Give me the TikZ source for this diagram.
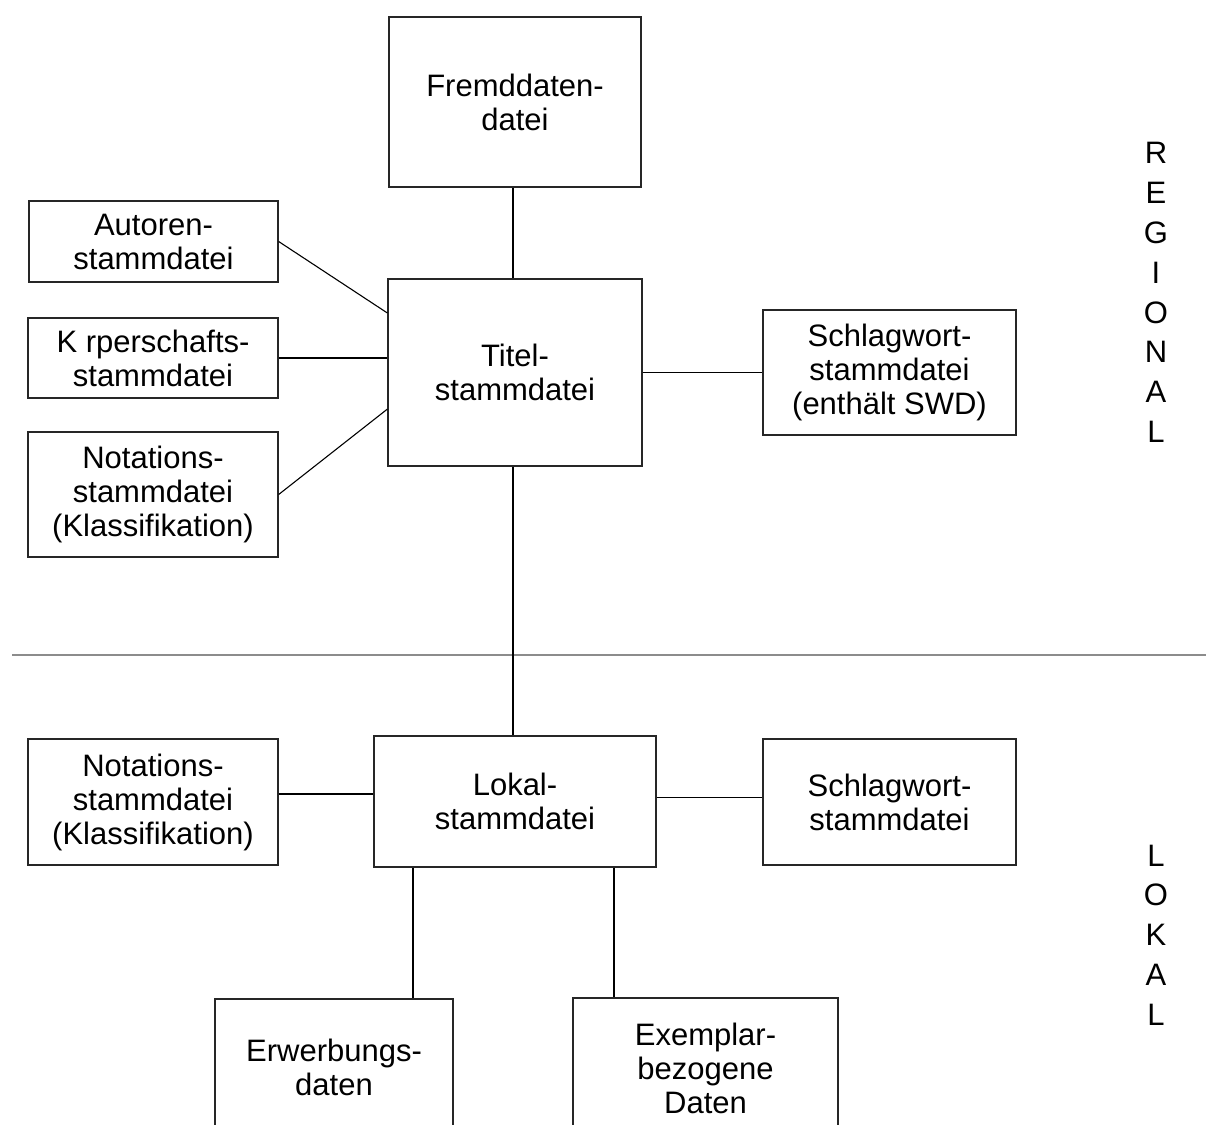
\documentclass[tikz,border=0pt]{standalone}
\usepackage{fontspec}
\setmainfont{Liberation Sans}
\begin{document}
\begin{tikzpicture}[x=1pt,y=-1pt,
  box/.style={draw=black!85, line width=1.3pt, fill=white, align=center, inner sep=0pt, font=\fontsize{31}{34}\selectfont},
  conn/.style={draw=black, line width=1.1pt},
  divider/.style={draw=black!45, line width=1.4pt},
  vlabel/.style={align=center, inner sep=0pt, font=\fontsize{31}{39.8}\selectfont}]
\useasboundingbox (0,0) rectangle (1206,1124);
\clip (0,0) rectangle (1206,1124);
\fill[white] (0,0) rectangle (1206,1124);

% divider
\coordinate (dl) at (12,655);
\coordinate (dr) at (1206,655);
\draw[divider] (dl) -- (dr);

% regional boxes
\node[box, minimum width=252pt, minimum height=170pt] (fremd) at (515,102) {Fremddaten-\\datei};
\node[box, minimum width=254pt, minimum height=187pt] (titel) at (515,372.5) {Titel-\\stammdatei};
\node[box, minimum width=249pt, minimum height=81pt] (autoren) at (153.5,241.5) {Autoren-\\stammdatei};
\node[box, minimum width=250pt, minimum height=80pt] (koerp) at (153,358) {K rperschafts-\\stammdatei};
\node[box, minimum width=250pt, minimum height=125pt] (notat1) at (153,494.5) {Notations-\\stammdatei\\(Klassifikation)};
\node[box, minimum width=253pt, minimum height=125pt] (schlag1) at (889.5,372.5) {Schlagwort-\\stammdatei\\(enthält SWD)};

% local boxes
\node[box, minimum width=282pt, minimum height=131pt] (lokal) at (515,801.5) {Lokal-\\stammdatei};
\node[box, minimum width=250pt, minimum height=126pt] (notat2) at (153,802) {Notations-\\stammdatei\\(Klassifikation)};
\node[box, minimum width=253pt, minimum height=126pt] (schlag2) at (889.5,802) {Schlagwort-\\stammdatei};
\node[box, minimum width=238pt, minimum height=136pt] (erwerb) at (334,1067) {Erwerbungs-\\daten};
\node[box, minimum width=265pt, minimum height=140pt] (exemp) at (705.5,1068) {Exemplar-\\bezogene\\Daten};

% side labels
\node[vlabel] (regional) at (1156,292.5) {R\\E\\G\\I\\O\\N\\A\\L};
\node[vlabel] (lokallab) at (1156,935) {L\\O\\K\\A\\L};

% connectors
\draw[conn] ([xshift=-2pt]fremd.south) -- ([xshift=-2pt]titel.north);
\draw[conn] (autoren.east) -- (titel.155);
\draw[conn] (koerp.east) -- (koerp.east -| titel.west);
\draw[conn] (notat1.east) -- (titel.196);
\draw[conn] (titel.east) -- (schlag1.west);
\draw[conn] ([xshift=-2pt]titel.south) -- ([xshift=-2pt]lokal.north);
\draw[conn] ([yshift=8pt]notat2.east) -- ([yshift=8pt]notat2.east -| lokal.west);
\draw[conn] ([yshift=4pt]lokal.east) -- ([yshift=4pt]lokal.east -| schlag2.west);
\draw[conn] ([xshift=-102pt]lokal.south) -- ([xshift=-102pt]lokal.south |- erwerb.north);
\draw[conn] ([xshift=99pt]lokal.south) -- ([xshift=99pt]lokal.south |- exemp.north);
\end{tikzpicture}
\end{document}
